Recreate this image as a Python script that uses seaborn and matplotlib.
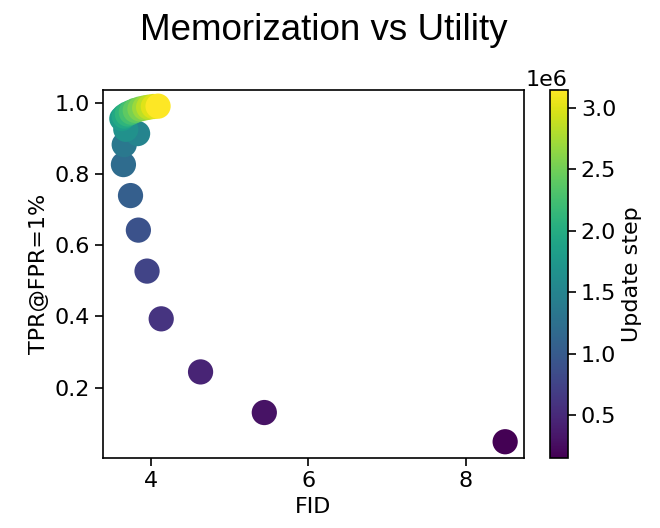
import matplotlib
matplotlib.use("Agg")
import matplotlib.pyplot as plt
import seaborn as sns
import numpy as np
import pandas as pd

# Data
fid = [8.50, 5.44, 4.63, 4.13, 3.95, 3.84, 3.74, 3.65, 3.66, 3.83,
       3.68, 3.63, 3.66, 3.70, 3.75, 3.80, 3.86, 3.92, 3.97, 4.03, 4.09]
tpr = [0.048, 0.130, 0.244, 0.393, 0.527, 0.642, 0.739, 0.826, 0.882, 0.913,
       0.925, 0.955, 0.962, 0.968, 0.973, 0.978, 0.982, 0.985, 0.987, 0.989, 0.990]
steps = [150000, 300000, 450000, 600000, 750000, 900000, 1050000, 1200000,
         1350000, 1500000, 1650000, 1800000, 1950000, 2100000, 2250000,
         2400000, 2550000, 2700000, 2850000, 3000000, 3150000]

df = pd.DataFrame({"FID": fid, "TPR": tpr, "step": steps})

sns.set_style("ticks")
plt.rcParams['font.family'] = ['DejaVu Sans']
for k in ['text.color', 'axes.labelcolor', 'xtick.color', 'ytick.color', 'axes.edgecolor']:
    plt.rcParams[k] = 'black'

fig = plt.figure(figsize=(6.6, 5.28), dpi=100)
ax = fig.add_axes([0.156, 0.133, 0.638, 0.697])
cax = fig.add_axes([0.833, 0.133, 0.027, 0.697])

vmin, vmax = min(steps), max(steps)
norm = matplotlib.colors.Normalize(vmin=vmin, vmax=vmax)
sns.scatterplot(data=df, x="FID", y="TPR", hue="step", palette="viridis",
                hue_norm=norm, s=330, edgecolor="none", linewidth=0,
                legend=False, ax=ax, zorder=3)

ax.set_xlim(3.39, 8.74)
ax.set_ylim(0.003, 1.036)
ax.set_xticks([4, 6, 8])
ax.set_yticks([0.2, 0.4, 0.6, 0.8, 1.0])
ax.tick_params(labelsize=16, length=6, width=1.2)
ax.set_xlabel("FID", fontsize=16)
ax.set_ylabel("TPR@FPR=1%", fontsize=16)
for sp in ax.spines.values():
    sp.set_linewidth(1.2)

sm = matplotlib.cm.ScalarMappable(norm=norm, cmap="viridis")
cb = fig.colorbar(sm, cax=cax)
cb.set_ticks([500000, 1000000, 1500000, 2000000, 2500000, 3000000])
cb.ax.tick_params(labelsize=16, length=6, width=1.2)
cb.ax.yaxis.get_offset_text().set_fontsize(16)
cb.set_label("Update step", fontsize=16)
cb.outline.set_linewidth(1.2)

fig.suptitle("Memorization vs Utility", fontsize=26.5,
             family=['Liberation Sans', 'DejaVu Sans'], x=0.49, y=0.975)

fig.savefig("out.png", dpi=100)
